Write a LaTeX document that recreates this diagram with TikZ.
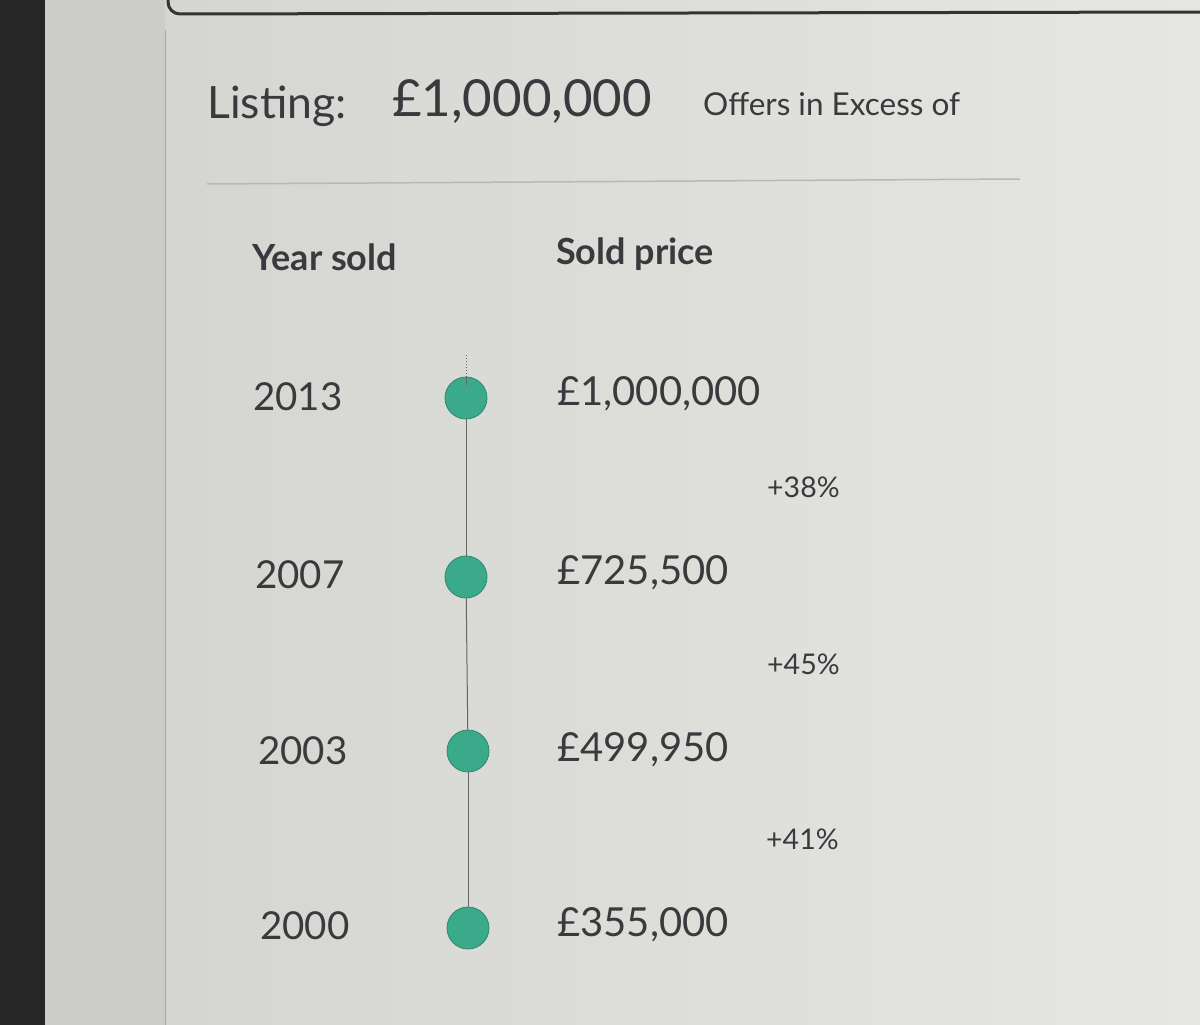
\documentclass[tikz,border=0pt]{standalone}
\usepackage{fontspec}
\setmainfont{Lato}
\definecolor{bgL}{HTML}{D2D2CE}
\definecolor{bgR}{HTML}{E6E6E2}
\definecolor{txt}{HTML}{3A3A3E}
\definecolor{teal}{HTML}{3AAA8A}
\definecolor{rule}{HTML}{B8B8B4}
\begin{document}
\begin{tikzpicture}[x=1pt,y=-1pt,
  txtstyle/.style={text=txt,inner sep=0pt,anchor=west},
  yearlbl/.style={txtstyle,font=\fontsize{38.5}{40}\selectfont},
  pricelbl/.style={txtstyle,font=\fontsize{40}{42}\selectfont},
  pctlbl/.style={txtstyle,font=\fontsize{28.5}{30}\selectfont},
  headlbl/.style={txtstyle,font=\fontsize{36}{38}\selectfont\bfseries},
  dotstyle/.style={circle,fill=teal,draw=teal!80!black,line width=0.8pt,minimum size=42pt,inner sep=0pt}]
\useasboundingbox (0,0) rectangle (1200,1025);
% background
\shade[left color=bgL,right color=bgR] (0,0) rectangle (1200,1025);
\fill[bgL!97!black] (45,0) rectangle (165,1025);
\fill[black!85] (0,0) rectangle (45,1025);
\draw[bgL!80!black,line width=1pt] (165,30) -- (165,1025);
% top box edge
\draw[black!80,line width=3pt,rounded corners=12pt] (168,-20) -- (168,14) -- (1210,12);
% listing
\node[txtstyle,font=\fontsize{44.5}{46}\selectfont] (lst) at (207,106) {Listing:};
\node[txtstyle,font=\fontsize{51}{53}\selectfont] (lprice) at (392,101) {£1,000,000};
\node[txtstyle,font=\fontsize{31.5}{33}\selectfont] (offer) at (703,104) {Offers in Excess of};
\draw[rule,line width=1.5pt] (207,184) -- (1020,179);
% headings
\node[headlbl] (hy) at (252,257) {Year sold};
\node[headlbl] (hp) at (556,254) {Sold price};
% timeline
\coordinate (ttop) at (466,355);
\node[dotstyle] (d1) at (466,398) {};
\node[dotstyle] (d2) at (466,577) {};
\node[dotstyle] (d3) at (468,751) {};
\node[dotstyle] (d4) at (468,928) {};
\draw[black!60,line width=1pt,dotted] (ttop) -- (466,385);
\draw[black!60,line width=1pt] (466,385) -- (d1);
\draw[black!60,line width=1pt] (d1) -- (d2);
\draw[black!60,line width=1pt] (d2) -- (d3);
\draw[black!60,line width=1pt] (d3) -- (d4);
% years
\node[yearlbl] (y1) at (253,397) {2013};
\node[yearlbl] (y2) at (255,575) {2007};
\node[yearlbl] (y3) at (258,751) {2003};
\node[yearlbl] (y4) at (260,926) {2000};
% prices
\node[pricelbl] (p1) at (557,394) {£1,000,000};
\node[pricelbl] (p2) at (557,573) {£725,500};
\node[pricelbl] (p3) at (557,750) {£499,950};
\node[pricelbl] (p4) at (557,925) {£355,000};
% percentages
\node[pctlbl] (c1) at (767,487) {+38\%};
\node[pctlbl] (c2) at (767,664) {+45\%};
\node[pctlbl] (c3) at (766,839) {+41\%};
\end{tikzpicture}
\end{document}
